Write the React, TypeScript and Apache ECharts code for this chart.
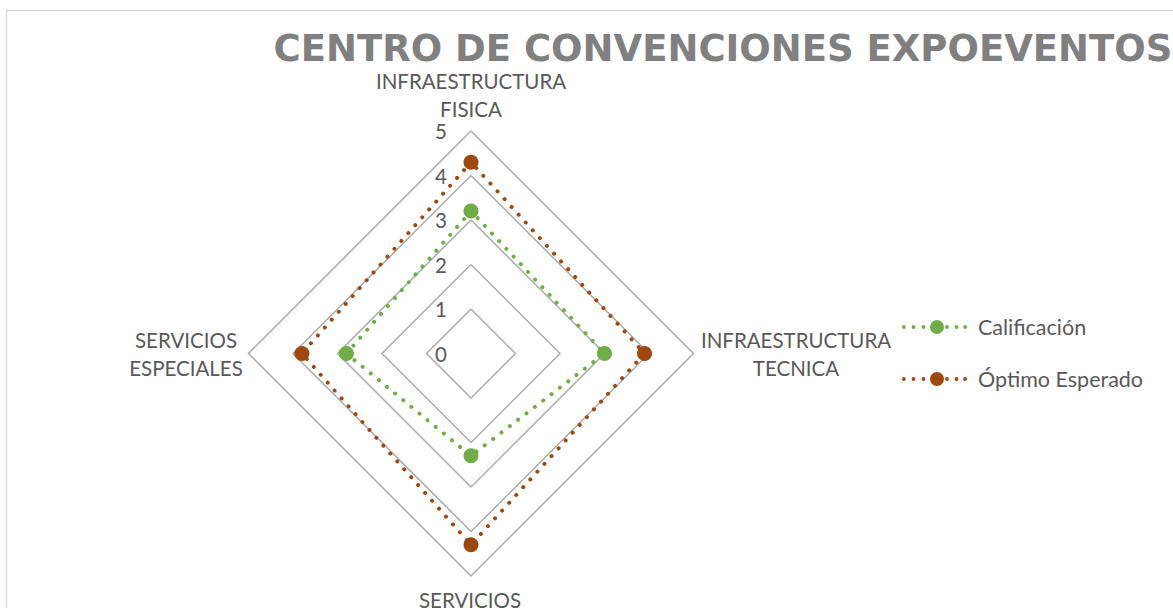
import React, { useEffect, useRef } from "react";
import * as echarts from "echarts";

const titleText = "CENTRO DE CONVENCIONES EXPOEVENTOS";
const categories = ["INFRAESTRUCTURA\nFISICA", "INFRAESTRUCTURA\nTECNICA", "SERVICIOS", "SERVICIOS\nESPECIALES"];
const seriesNames = ["Calificación", "Óptimo Esperado"];
const calificacion = [3.2, 3.0, 2.3, 2.8];
const optimo = [4.3, 3.9, 4.3, 3.8];
const axisMax = 5;

const colors = ["#70AD47", "#9E480E"];
const labelColor = "#595959";
const FONT = "Lato";

// ECharts places indicators counter-clockwise; Excel clockwise
const order = [0, 3, 2, 1];

function dotsIcon(): string {
  const c = (cx: number, cy: number, r: number) =>
    `M${cx - r} ${cy}a${r} ${r} 0 1 0 ${2 * r} 0a${r} ${r} 0 1 0 ${-2 * r} 0Z`;
  return (
    "path://" +
    [c(1.9, 7, 1.9), c(11.5, 7, 1.9), c(21.5, 7, 1.9), c(35, 7, 7), c(45, 7, 1.9), c(54.5, 7, 1.9), c(63.1, 7, 1.9)].join("")
  );
}

export default function App() {
  const ref = useRef<HTMLDivElement>(null);
  useEffect(() => {
    if (!ref.current) return;
    const chart = echarts.init(ref.current, null, { renderer: "svg" });
    const cx = 471;
    const cy = 353.5;
    const R = 222.5;
    const nameLayout = [
      { x: 471, y: 95 },
      { x: 796, y: 354 },
      { x: 470, y: 600 },
      { x: 186, y: 354 },
    ];
    const icon = dotsIcon();
    const lineType = [0.01, 10.5];
    chart.setOption({
      animation: false,
      title: {
        text: titleText,
        left: 723,
        top: 33,
        padding: 0,
        textAlign: "center",
        textStyle: {
          fontFamily: "DejaVu Sans",
          fontWeight: "bold",
          fontSize: 37,
          lineHeight: 30,
          color: "#808080",
        },
      },
      legend: {
        orient: "vertical",
        left: 897,
        top: 311,
        itemWidth: 77,
        itemHeight: 14,
        itemGap: 30,
        itemStyle: { borderWidth: 0 },
        textStyle: { fontFamily: FONT, fontSize: 21.5, color: labelColor },
        data: seriesNames.map((n) => ({ name: n, icon })),
      },
      radar: {
        center: [cx, cy],
        radius: R,
        shape: "polygon",
        splitNumber: 5,
        startAngle: 90,
        axisName: { show: false },
        axisLine: { show: false },
        axisTick: { show: false },
        splitArea: { show: false },
        splitLine: { lineStyle: { color: "#ABABAB", width: 1.5 } },
        axisLabel: { show: false },
        indicator: order.map((i, k) => ({
          name: categories[i],
          min: 0,
          max: axisMax,
          ...(k === 0
            ? {
                axisLabel: {
                  show: true,
                  showMinLabel: true,
                  showMaxLabel: true,
                  margin: 24,
                  fontFamily: FONT,
                  fontSize: 20.5,
                  color: labelColor,
                },
              }
            : {}),
        })),
      },
      series: [
        {
          type: "radar",
          symbol: "circle",
          symbolSize: 15,
          data: [
            {
              name: seriesNames[0],
              value: order.map((i) => calificacion[i]),
              itemStyle: { color: colors[0] },
              lineStyle: { color: colors[0], width: 4, type: lineType, cap: "round" },
            },
            {
              name: seriesNames[1],
              value: order.map((i) => optimo[i]),
              itemStyle: { color: colors[1] },
              lineStyle: { color: colors[1], width: 4, type: lineType, cap: "round" },
            },
          ],
        },
      ],
      graphic: [
        {
          type: "rect",
          shape: { x: 6.5, y: 10.5, width: 1300, height: 800 },
          style: { fill: "none", stroke: "#D9D9D9", lineWidth: 1.5 },
          silent: true,
        },
        ...categories.map((c, i) => ({
          type: "text",
          x: nameLayout[i].x,
          y: nameLayout[i].y,
          style: {
            text: c,
            fontFamily: FONT,
            fontSize: 20.5,
            lineHeight: 28,
            fill: labelColor,
            align: "center",
            verticalAlign: "middle",
          },
        })),
      ],
    });
    return () => chart.dispose();
  }, []);
  return (
    <div
      ref={ref}
      style={{ position: "absolute", left: 0, top: 0, width: 1173, height: 608, background: "#fff" }}
    />
  );
}
